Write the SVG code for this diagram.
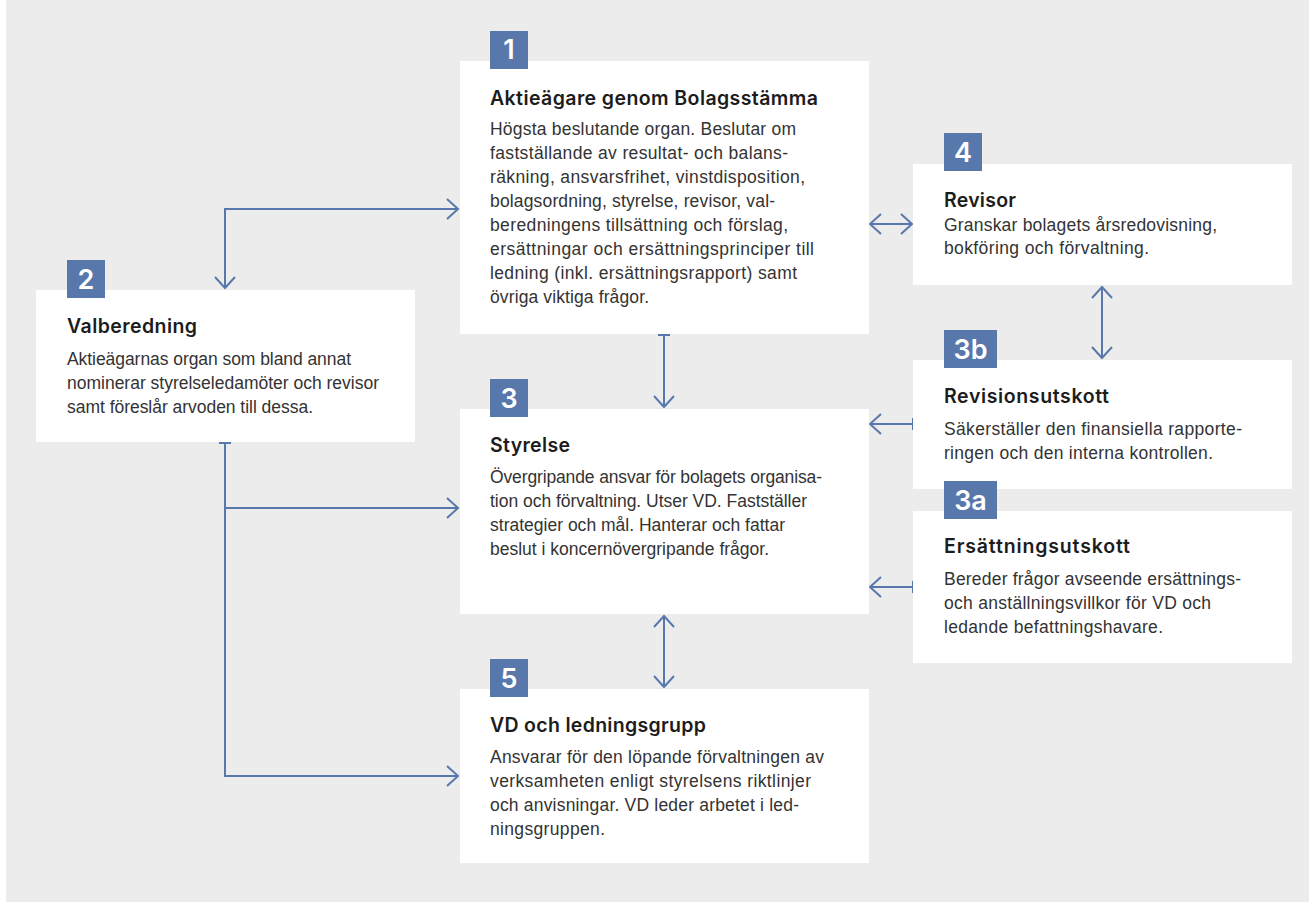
<svg xmlns="http://www.w3.org/2000/svg" width="1309" height="903" viewBox="0 0 1309 903">
<defs>
<style>
.bg{fill:#ececec}
.box{fill:#ffffff}
.badge{fill:#5877ab}
.bn{font-family:Inter,"Liberation Sans",sans-serif;font-weight:600;font-size:27px;fill:#ffffff;text-anchor:middle}
.t{font-family:Inter,"Liberation Sans",sans-serif;font-weight:600;font-size:19.5px;fill:#1c1c1c}
.b{font-family:"Liberation Sans",Arial,sans-serif;font-size:17.5px;fill:#333333}
.c{fill:none;stroke:#5877ab;stroke-width:2}
</style>
<marker id="ah" viewBox="-14 -12 16 24" refX="0" refY="0" markerWidth="16" markerHeight="24" markerUnits="userSpaceOnUse" orient="auto-start-reverse">
<path d="M-11,-10 L0,0 L-11,10" fill="none" stroke="#5877ab" stroke-width="2"/>
</marker>
<marker id="tb" viewBox="-2 -8 4 16" refX="0" refY="0" markerWidth="4" markerHeight="16" markerUnits="userSpaceOnUse" orient="auto">
<path d="M0,-6 L0,6" fill="none" stroke="#5877ab" stroke-width="2"/>
</marker>
</defs>
<rect class="bg" x="6" y="0" width="1303" height="902"/>

<g id="connectors">
<line class="c" x1="870" y1="224" x2="912" y2="224" marker-start="url(#ah)" marker-end="url(#ah)"/>
<line class="c" x1="1102" y1="287" x2="1102" y2="358" marker-start="url(#ah)" marker-end="url(#ah)"/>
<line class="c" x1="913" y1="424" x2="870" y2="424" marker-start="url(#tb)" marker-end="url(#ah)"/>
<line class="c" x1="913" y1="587" x2="870" y2="587" marker-start="url(#tb)" marker-end="url(#ah)"/>
<line class="c" x1="664" y1="335" x2="664" y2="407" marker-start="url(#tb)" marker-end="url(#ah)"/>
<line class="c" x1="664" y1="616" x2="664" y2="687" marker-start="url(#ah)" marker-end="url(#ah)"/>
<path class="c" d="M225,288 L225,209 L458,209" marker-start="url(#ah)" marker-end="url(#ah)"/>
<path class="c" d="M225,443 L225,776 L458,776" marker-start="url(#tb)" marker-end="url(#ah)"/>
<path class="c" d="M225,508 L458,508" marker-end="url(#ah)"/>
</g>

<g id="node-1">
<rect class="box" x="460" y="61" width="409" height="273"/>
<rect class="badge" x="490" y="31" width="38" height="38"/>
<text class="bn" x="509" y="59">1</text>
<text class="t" x="490" y="105" textLength="328" lengthAdjust="spacing">Aktieägare genom Bolagsstämma</text>
<text class="b" x="490" y="135" textLength="306" lengthAdjust="spacing">Högsta beslutande organ. Beslutar om</text>
<text class="b" x="490" y="159" textLength="298" lengthAdjust="spacing">fastställande av resultat- och balans-</text>
<text class="b" x="490" y="183" textLength="315" lengthAdjust="spacing">räkning, ansvarsfrihet, vinstdisposition,</text>
<text class="b" x="490" y="207" textLength="285" lengthAdjust="spacing">bolagsordning, styrelse, revisor, val-</text>
<text class="b" x="490" y="231" textLength="298" lengthAdjust="spacing">beredningens tillsättning och förslag,</text>
<text class="b" x="490" y="255" textLength="324" lengthAdjust="spacing">ersättningar och ersättningsprinciper till</text>
<text class="b" x="490" y="279" textLength="307" lengthAdjust="spacing">ledning (inkl. ersättningsrapport) samt</text>
<text class="b" x="490" y="303" textLength="159" lengthAdjust="spacing">övriga viktiga frågor.</text>
</g>

<g id="node-2">
<rect class="box" x="36" y="290" width="379" height="152"/>
<rect class="badge" x="67" y="260" width="38" height="38"/>
<text class="bn" x="86" y="289">2</text>
<text class="t" x="67" y="333" textLength="130" lengthAdjust="spacing">Valberedning</text>
<text class="b" x="67" y="365" textLength="284" lengthAdjust="spacing">Aktieägarnas organ som bland annat</text>
<text class="b" x="67" y="389" textLength="312" lengthAdjust="spacing">nominerar styrelseledamöter och revisor</text>
<text class="b" x="67" y="413" textLength="246" lengthAdjust="spacing">samt föreslår arvoden till dessa.</text>
</g>

<g id="node-3">
<rect class="box" x="460" y="409" width="409" height="205"/>
<rect class="badge" x="490" y="379" width="38" height="38"/>
<text class="bn" x="509" y="408">3</text>
<text class="t" x="490" y="452" textLength="80" lengthAdjust="spacing">Styrelse</text>
<text class="b" x="490" y="483" textLength="332" lengthAdjust="spacing">Övergripande ansvar för bolagets organisa-</text>
<text class="b" x="490" y="507" textLength="317" lengthAdjust="spacing">tion och förvaltning. Utser VD. Fastställer</text>
<text class="b" x="490" y="531" textLength="295" lengthAdjust="spacing">strategier och mål. Hanterar och fattar</text>
<text class="b" x="490" y="555" textLength="279" lengthAdjust="spacing">beslut i koncernövergripande frågor.</text>
</g>

<g id="node-4">
<rect class="box" x="913" y="164" width="379" height="121"/>
<rect class="badge" x="944" y="133" width="38" height="38"/>
<text class="bn" x="963" y="162">4</text>
<text class="t" x="944" y="207" textLength="72" lengthAdjust="spacing">Revisor</text>
<text class="b" x="944" y="231" textLength="273" lengthAdjust="spacing">Granskar bolagets årsredovisning,</text>
<text class="b" x="944" y="254" textLength="205" lengthAdjust="spacing">bokföring och förvaltning.</text>
</g>

<g id="node-3b">
<rect class="box" x="913" y="360" width="379" height="129"/>
<rect class="badge" x="944" y="330" width="53" height="38"/>
<text class="bn" x="970.5" y="359">3b</text>
<text class="t" x="944" y="403" textLength="165" lengthAdjust="spacing">Revisionsutskott</text>
<text class="b" x="944" y="435" textLength="298" lengthAdjust="spacing">Säkerställer den finansiella rapporte-</text>
<text class="b" x="944" y="459" textLength="269" lengthAdjust="spacing">ringen och den interna kontrollen.</text>
</g>

<g id="node-3a">
<rect class="box" x="913" y="511" width="379" height="152"/>
<rect class="badge" x="944" y="481" width="53" height="38"/>
<text class="bn" x="970.5" y="510">3a</text>
<text class="t" x="944" y="553" textLength="186" lengthAdjust="spacing">Ersättningsutskott</text>
<text class="b" x="944" y="585" textLength="297" lengthAdjust="spacing">Bereder frågor avseende ersättnings-</text>
<text class="b" x="944" y="609" textLength="267" lengthAdjust="spacing">och anställningsvillkor för VD och</text>
<text class="b" x="944" y="633" textLength="219" lengthAdjust="spacing">ledande befattningshavare.</text>
</g>

<g id="node-5">
<rect class="box" x="460" y="689" width="409" height="174"/>
<rect class="badge" x="490" y="659" width="38" height="38"/>
<text class="bn" x="509" y="688">5</text>
<text class="t" x="490" y="732" textLength="216" lengthAdjust="spacing">VD och ledningsgrupp</text>
<text class="b" x="490" y="763" textLength="334" lengthAdjust="spacing">Ansvarar för den löpande förvaltningen av</text>
<text class="b" x="490" y="787" textLength="321" lengthAdjust="spacing">verksamheten enligt styrelsens riktlinjer</text>
<text class="b" x="490" y="811" textLength="309" lengthAdjust="spacing">och anvisningar. VD leder arbetet i led-</text>
<text class="b" x="490" y="835" textLength="115" lengthAdjust="spacing">ningsgruppen.</text>
</g>
</svg>
